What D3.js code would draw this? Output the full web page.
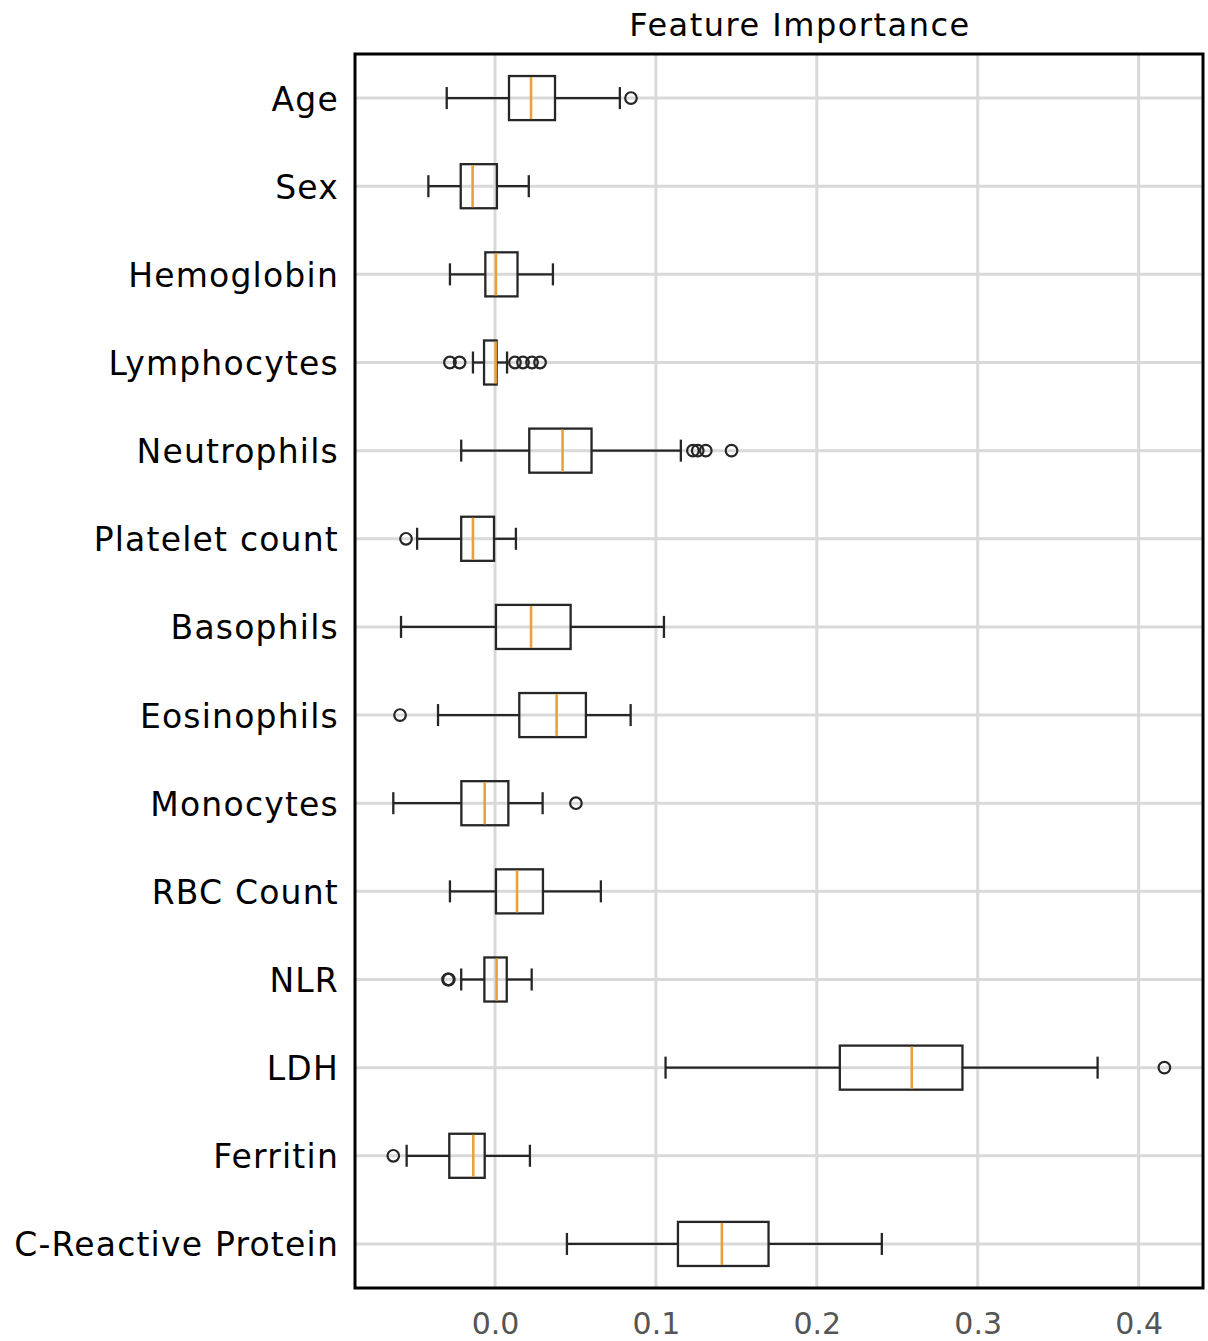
<!DOCTYPE html>
<html>
<head>
<meta charset="utf-8">
<script src="https://cdn.jsdelivr.net/npm/d3@7"></script>
<style>
  body { margin: 0; background: #fff; }
  svg { display: block; }
</style>
</head>
<body>
<div id="chart"></div>
<script>
// feature importance per feature
const features = ["Age", "Sex", "Hemoglobin", "Lymphocytes", "Neutrophils", "Platelet count",
  "Basophils", "Eosinophils", "Monocytes", "RBC Count", "NLR", "LDH", "Ferritin", "C-Reactive Protein"];
const whiskerLow  = [-0.030, -0.0414, -0.028, -0.0137, -0.021, -0.0484, -0.0584, -0.0354, -0.0632, -0.028, -0.021, 0.106, -0.0549, 0.0447];
const q1          = [0.0087, -0.0213, -0.006, -0.0068, 0.0213, -0.021, 0.0006, 0.0151, -0.0209, 0.0006, -0.0066, 0.2143, -0.0284, 0.1137];
const medians     = [0.0224, -0.0139, 0.0006, 0.0004, 0.042, -0.0137, 0.0224, 0.0383, -0.0064, 0.0137, 0.001, 0.259, -0.0135, 0.141];
const q3          = [0.0373, 0.0012, 0.014, 0.001, 0.060, -0.0006, 0.047, 0.0565, 0.0083, 0.0298, 0.0073, 0.2905, -0.0064, 0.170];
const whiskerHigh = [0.0776, 0.021, 0.036, 0.0075, 0.1155, 0.013, 0.105, 0.0843, 0.0296, 0.0658, 0.0228, 0.3745, 0.0217, 0.2404];
const outliers    = [[0.0845], [], [], [-0.028, -0.022, 0.0124, 0.0174, 0.023, 0.028],
  [0.123, 0.126, 0.131, 0.147], [-0.0553], [], [-0.059], [0.0503], [], [-0.0292, -0.0287],
  [0.416], [-0.0632], []];
const xTicks = [0.0, 0.1, 0.2, 0.3, 0.4];

const width = 1208, height = 1341;
const margin = {top: 54, right: 5, bottom: 53, left: 355};

const svg = d3.select("#chart").append("svg")
  .attr("width", width)
  .attr("height", height)
  .style("font-family", "'DejaVu Sans', Verdana, sans-serif");

const x = d3.scaleLinear()
  .domain([-0.087, 0.44])
  .range([margin.left, width - margin.right]);

const y = d3.scaleBand()
  .domain(features)
  .range([margin.top, height - margin.bottom])
  .padding(0);

const boxH = y.bandwidth() * 0.5;
const capH = boxH * 0.5;
const cy = d => y(d) + y.bandwidth() / 2;

// grid
const grid = svg.append("g");
grid.selectAll(".vgrid").data(xTicks).enter().append("line")
  .attr("x1", d => x(d)).attr("x2", d => x(d))
  .attr("y1", margin.top).attr("y2", height - margin.bottom)
  .attr("stroke", "#d9d9d9").attr("stroke-width", 3);
grid.selectAll(".hgrid").data(features).enter().append("line")
  .attr("x1", margin.left).attr("x2", width - margin.right)
  .attr("y1", d => cy(d)).attr("y2", d => cy(d))
  .attr("stroke", "#d9d9d9").attr("stroke-width", 3);

// boxes
const rows = features.map((f, i) => ({
  name: f, lo: whiskerLow[i], q1: q1[i], med: medians[i], q3: q3[i], hi: whiskerHigh[i], out: outliers[i]
}));

const g = svg.selectAll(".box").data(rows).enter().append("g").attr("class", "box");
const ink = "#262626";
const lw = 2.3;

g.append("line")
  .attr("x1", d => x(d.lo)).attr("x2", d => x(d.q1))
  .attr("y1", d => cy(d.name)).attr("y2", d => cy(d.name))
  .attr("stroke", ink).attr("stroke-width", lw);
g.append("line")
  .attr("x1", d => x(d.q3)).attr("x2", d => x(d.hi))
  .attr("y1", d => cy(d.name)).attr("y2", d => cy(d.name))
  .attr("stroke", ink).attr("stroke-width", lw);
g.append("line")
  .attr("x1", d => x(d.lo)).attr("x2", d => x(d.lo))
  .attr("y1", d => cy(d.name) - capH / 2).attr("y2", d => cy(d.name) + capH / 2)
  .attr("stroke", ink).attr("stroke-width", lw);
g.append("line")
  .attr("x1", d => x(d.hi)).attr("x2", d => x(d.hi))
  .attr("y1", d => cy(d.name) - capH / 2).attr("y2", d => cy(d.name) + capH / 2)
  .attr("stroke", ink).attr("stroke-width", lw);
g.append("rect")
  .attr("x", d => x(d.q1))
  .attr("width", d => Math.max(1, x(d.q3) - x(d.q1)))
  .attr("y", d => cy(d.name) - boxH / 2)
  .attr("height", boxH)
  .attr("fill", "none").attr("stroke", ink).attr("stroke-width", lw);
g.append("line")
  .attr("x1", d => x(d.med)).attr("x2", d => x(d.med))
  .attr("y1", d => cy(d.name) - boxH / 2 + 1).attr("y2", d => cy(d.name) + boxH / 2 - 1)
  .attr("stroke", "#eba135").attr("stroke-width", 2.6);
g.selectAll("circle").data(d => d.out.map(v => ({v: v, name: d.name}))).enter().append("circle")
  .attr("cx", d => x(d.v)).attr("cy", d => cy(d.name)).attr("r", 5.8)
  .attr("fill", "none").attr("stroke", ink).attr("stroke-width", 2.2);

// axes
const xAxis = svg.append("g")
  .attr("transform", `translate(0,${height - margin.bottom})`)
  .call(d3.axisBottom(x).tickValues(xTicks).tickFormat(d3.format(".1f")).tickSize(0).tickPadding(25));
xAxis.select(".domain").remove();
xAxis.selectAll("text").attr("font-size", 30).attr("fill", "#555").attr("font-family", "'DejaVu Sans', sans-serif");

const yAxis = svg.append("g")
  .attr("transform", `translate(${margin.left},2)`)
  .call(d3.axisLeft(y).tickSize(0).tickPadding(16));
yAxis.select(".domain").remove();
yAxis.selectAll("text").attr("font-size", 33).attr("letter-spacing", 1.2)
  .attr("fill", "#000").attr("font-family", "'DejaVu Sans', sans-serif");

// frame
svg.append("rect")
  .attr("x", margin.left).attr("y", margin.top)
  .attr("width", width - margin.right - margin.left)
  .attr("height", height - margin.bottom - margin.top)
  .attr("fill", "none").attr("stroke", "#000").attr("stroke-width", 3);

// title
svg.append("text")
  .attr("x", 800).attr("y", 36)
  .attr("text-anchor", "middle")
  .attr("font-size", 32)
  .attr("letter-spacing", 1.5)
  .attr("fill", "#000")
  .text("Feature Importance");
</script>
</body>
</html>
